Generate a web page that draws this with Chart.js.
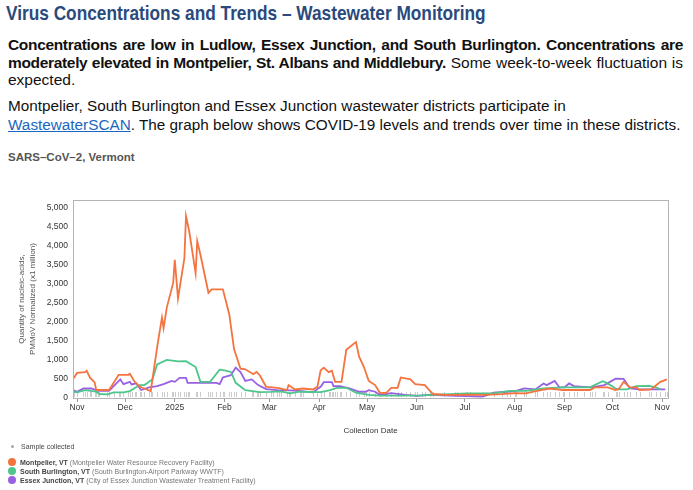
<!DOCTYPE html>
<html>
<head>
<meta charset="utf-8">
<script src="https://cdn.jsdelivr.net/npm/chart.js@4.4.1/dist/chart.umd.min.js"></script>
<style>
  body { margin: 0; background: #fff; width: 693px; height: 490px; overflow: hidden; position: relative;
         font-family: "Liberation Sans", Arial, sans-serif; color: #111; }
  .title { position: absolute; left: 6px; top: 1px; font-weight: bold; font-size: 21px; color: #2b4a7c;
           white-space: nowrap; transform: scaleX(0.822); transform-origin: 0 0; }
  .lead { position: absolute; left: 8px; top: 36px; width: 675px; font-size: 15.5px; line-height: 17.5px; }
  .lead b { letter-spacing: -0.33px; }
  .lead .just { text-align: justify; text-align-last: justify; white-space: nowrap; }
  .intro { position: absolute; left: 8px; top: 95.5px; font-size: 15.3px; line-height: 19px; white-space: nowrap; }
  .intro a { color: #1a66c0; }
  .sub { position: absolute; left: 8px; top: 151px; font-weight: bold; font-size: 11.5px; color: #555; }
  #wrap { position: absolute; left: 0; top: 190px; width: 693px; height: 255px; }
  .legend { position: absolute; left: 8px; top: 442px; font-size: 7px; color: #444; line-height: 9px; }
  .legend div { white-space: nowrap; }
  .legend .dot { display: inline-block; width: 8px; height: 8px; border-radius: 50%; vertical-align: -1px; margin-right: 4px; }
  .legend .small { display: inline-block; width: 3px; height: 3px; border-radius: 50%; background: #aaa; margin: 0 7px 1px 3px; }
  .legend .note { color: #777; }
</style>
</head>
<body>
<div class="title">Virus Concentrations and Trends – Wastewater Monitoring</div>
<div class="lead">
  <div class="just"><b>Concentrations are low in Ludlow, Essex Junction, and South Burlington. Concentrations are</b></div>
  <div class="just"><b>moderately elevated in Montpelier, St. Albans and Middlebury.</b> Some week-to-week fluctuation is</div>
  <div>expected.</div>
</div>
<div class="intro">Montpelier, South Burlington and Essex Junction wastewater districts participate in<br><a href="#">WastewaterSCAN</a>. The graph below shows COVID-19 levels and trends over time in these districts.</div>
<div class="sub">SARS–CoV–2, Vermont</div>
<div id="wrap"><canvas id="wwChart"></canvas></div>
<div class="legend">
  <div style="margin-bottom:7px"><span class="small"></span>Sample collected</div>
  <div><span class="dot" style="background:#f4733f"></span><b>Montpelier, VT</b> <span class="note">(Montpelier Water Resource Recovery Facility)</span></div>
  <div><span class="dot" style="background:#4cc68a"></span><b>South Burlington, VT</b> <span class="note">(South Burlington-Airport Parkway WWTF)</span></div>
  <div><span class="dot" style="background:#9860e2"></span><b>Essex Junction, VT</b> <span class="note">(City of Essex Junction Wastewater Treatment Facility)</span></div>
</div>
<script>
// values (x1 million, PMMoV normalized)
const montpelierDates = ["2024-10-30","2024-11-01","2024-11-06","2024-11-07","2024-11-09","2024-11-12","2024-11-13","2024-11-21","2024-11-27","2024-12-03","2024-12-04","2024-12-07","2024-12-10","2024-12-13","2024-12-17","2024-12-21","2024-12-24","2024-12-25","2024-12-27","2024-12-31","2025-01-01","2025-01-03","2025-01-07","2025-01-08","2025-01-10","2025-01-14","2025-01-15","2025-01-17","2025-01-22","2025-01-24","2025-01-31","2025-02-04","2025-02-07","2025-02-11","2025-02-14","2025-02-19","2025-02-21","2025-02-23","2025-02-27","2025-03-03","2025-03-07","2025-03-12","2025-03-13","2025-03-17","2025-03-22","2025-03-28","2025-03-31","2025-04-02","2025-04-04","2025-04-07","2025-04-09","2025-04-11","2025-04-15","2025-04-18","2025-04-24","2025-04-26","2025-04-29","2025-05-02","2025-05-06","2025-05-09","2025-05-13","2025-05-16","2025-05-20","2025-05-22","2025-05-28","2025-05-31","2025-06-06","2025-06-11","2025-06-18","2025-06-25","2025-07-04","2025-07-14","2025-07-24","2025-08-01","2025-08-08","2025-08-15","2025-08-23","2025-08-31","2025-09-09","2025-09-17","2025-09-20","2025-09-28","2025-10-03","2025-10-05","2025-10-08","2025-10-12","2025-10-16","2025-10-18","2025-10-25","2025-10-31","2025-11-04"];
const montpelierValues = [520,660,680,720,540,410,210,210,610,610,640,425,300,250,180,1340,2120,1840,2380,3030,3640,2620,3680,4790,4390,3290,4130,3770,2770,2860,2860,2200,1280,770,755,625,685,600,295,280,260,210,340,225,250,225,295,730,800,680,720,425,425,1270,1470,1090,815,450,340,130,138,268,268,540,490,365,340,105,85,80,90,80,100,130,120,190,250,210,210,210,280,280,210,240,425,280,280,210,225,425,490];

const burlingtonDates = ["2024-10-30","2024-11-01","2024-11-06","2024-11-13","2024-11-15","2024-11-20","2024-11-24","2024-11-30","2024-12-04","2024-12-10","2024-12-13","2024-12-18","2024-12-21","2024-12-27","2025-01-03","2025-01-08","2025-01-14","2025-01-17","2025-01-23","2025-01-29","2025-02-01","2025-02-05","2025-02-08","2025-02-14","2025-02-23","2025-03-02","2025-03-08","2025-03-14","2025-03-20","2025-04-02","2025-04-08","2025-04-12","2025-04-18","2025-04-24","2025-05-02","2025-05-09","2025-05-20","2025-06-04","2025-06-18","2025-07-02","2025-07-19","2025-07-29","2025-08-08","2025-08-19","2025-08-31","2025-09-17","2025-09-25","2025-09-28","2025-10-04","2025-10-10","2025-10-16","2025-10-24","2025-10-28","2025-10-31"];
const burlingtonValues = [165,150,208,165,105,95,148,150,182,340,340,490,885,1005,965,970,815,425,425,745,730,685,400,208,156,160,175,122,165,156,208,268,268,140,80,60,65,70,95,120,122,190,190,250,280,280,440,385,226,226,312,320,280,226];

const essexDates = ["2024-10-30","2024-11-01","2024-11-05","2024-11-10","2024-11-14","2024-11-21","2024-11-28","2024-11-30","2024-12-04","2024-12-05","2024-12-08","2024-12-11","2024-12-16","2024-12-21","2024-12-25","2024-12-30","2025-01-01","2025-01-04","2025-01-08","2025-01-09","2025-01-27","2025-01-29","2025-01-31","2025-02-05","2025-02-08","2025-02-11","2025-02-14","2025-02-18","2025-02-22","2025-02-27","2025-03-06","2025-03-14","2025-03-21","2025-03-28","2025-04-02","2025-04-04","2025-04-09","2025-04-10","2025-04-14","2025-04-20","2025-04-26","2025-04-30","2025-05-02","2025-05-06","2025-05-09","2025-05-16","2025-05-25","2025-06-01","2025-06-09","2025-06-26","2025-07-12","2025-07-19","2025-07-27","2025-08-02","2025-08-07","2025-08-14","2025-08-19","2025-08-21","2025-08-26","2025-08-29","2025-09-01","2025-09-04","2025-09-07","2025-09-13","2025-09-18","2025-09-26","2025-10-03","2025-10-08","2025-10-12","2025-10-18","2025-11-03"];
const essexValues = [200,165,250,250,190,190,490,365,425,357,385,210,278,312,365,450,425,530,530,400,400,365,540,600,800,685,450,490,340,235,208,200,180,148,295,417,417,312,312,252,165,165,208,165,80,130,80,55,80,55,35,138,165,190,252,226,383,339,451,278,278,383,312,295,278,340,510,505,252,226,226];

const monthTickDates = ["2024-11-01","2024-12-01","2025-01-01","2025-02-01","2025-03-01","2025-04-01","2025-05-01","2025-06-01","2025-07-01","2025-08-01","2025-09-01","2025-10-01","2025-11-01"];
const monthTickLabels = ["Nov","Dec","2025","Feb","Mar","Apr","May","Jun","Jul","Aug","Sep","Oct","Nov"];
const yTicks = [0,500,1000,1500,2000,2500,3000,3500,4000,4500,5000];

const baseDay = Date.parse("2024-11-01");
const toDay = d => (Date.parse(d) - baseDay) / 86400000;
const toPoints = (dates, values) => dates.map((d, i) => ({ x: toDay(d), y: values[i] }));

// every collection date gets a tick in the rug along the bottom
const sampleDays = [...new Set([...montpelierDates, ...burlingtonDates, ...essexDates])].map(toDay);

const rugPlugin = {
  id: "rug",
  beforeDatasetsDraw(chart) {
    const { ctx, chartArea, scales: { x } } = chart;
    ctx.save();
    ctx.strokeStyle = "#cccccc";
    ctx.lineWidth = 1;
    sampleDays.forEach(d => {
      const px = Math.round(x.getPixelForValue(d)) + 0.5;
      ctx.beginPath();
      ctx.moveTo(px, chartArea.bottom - 6);
      ctx.lineTo(px, chartArea.bottom - 1);
      ctx.stroke();
    });
    ctx.restore();
  }
};

const framePlugin = {
  id: "frame",
  afterDraw(chart) {
    const { ctx, chartArea: a } = chart;
    ctx.save();
    ctx.strokeStyle = "#b3b3b3";
    ctx.lineWidth = 1;
    ctx.strokeRect(Math.round(a.left) + 0.5, Math.round(a.top) + 0.5, Math.round(a.right - a.left), Math.round(a.bottom - a.top));
    ctx.restore();
  }
};

const ctx = document.getElementById("wwChart").getContext("2d");
new Chart(ctx, {
  type: "line",
  data: {
    datasets: [
      { label: "Montpelier, VT", data: toPoints(montpelierDates, montpelierValues), borderColor: "#f4733f" },
      { label: "South Burlington, VT", data: toPoints(burlingtonDates, burlingtonValues), borderColor: "#4cc68a" },
      { label: "Essex Junction, VT", data: toPoints(essexDates, essexValues), borderColor: "#9860e2" }
    ]
  },
  options: {
    responsive: true,
    maintainAspectRatio: false,
    animation: false,
    layout: { padding: { top: 8, right: 25, left: 0, bottom: 0 } },
    elements: {
      line: { borderWidth: 1.8, tension: 0, fill: false },
      point: { radius: 0 }
    },
    plugins: { legend: { display: false }, tooltip: { enabled: false } },
    scales: {
      x: {
        type: "linear",
        min: -2.5,
        max: 368.7,
        afterBuildTicks: scale => { scale.ticks = monthTickDates.map(d => ({ value: toDay(d) })); },
        afterFit: scale => { scale.height = 47; },
        ticks: {
          autoSkip: false, maxRotation: 0, padding: 1,
          color: "#333", font: { family: "Liberation Sans", size: 8.5 },
          callback: (v, i) => monthTickLabels[i]
        },
        grid: { drawOnChartArea: false, drawTicks: true, tickLength: 4, color: "#999" },
        border: { display: false },
        title: {
          display: true, text: "Collection Date", color: "#333",
          font: { family: "Liberation Sans", size: 8 }, padding: { top: 0, bottom: 9 }
        }
      },
      y: {
        min: 0,
        max: 5210,
        afterBuildTicks: scale => { scale.ticks = yTicks.map(v => ({ value: v })); },
        afterFit: scale => { scale.width = 73; },
        ticks: {
          padding: 5, color: "#333", font: { family: "Liberation Sans", size: 8.5 },
          callback: v => v.toLocaleString("en-US")
        },
        grid: { display: false, drawTicks: false },
        border: { display: false },
        title: {
          display: true, text: ["Quantity of nucleic-acids,", "PMMoV Normalized (x1 million)"],
          color: "#555", font: { family: "Liberation Sans", size: 8, lineHeight: 1.375 },
          padding: { top: 16.5, bottom: 0 }
        }
      }
    }
  },
  plugins: [rugPlugin, framePlugin]
});
</script>
</body>
</html>
